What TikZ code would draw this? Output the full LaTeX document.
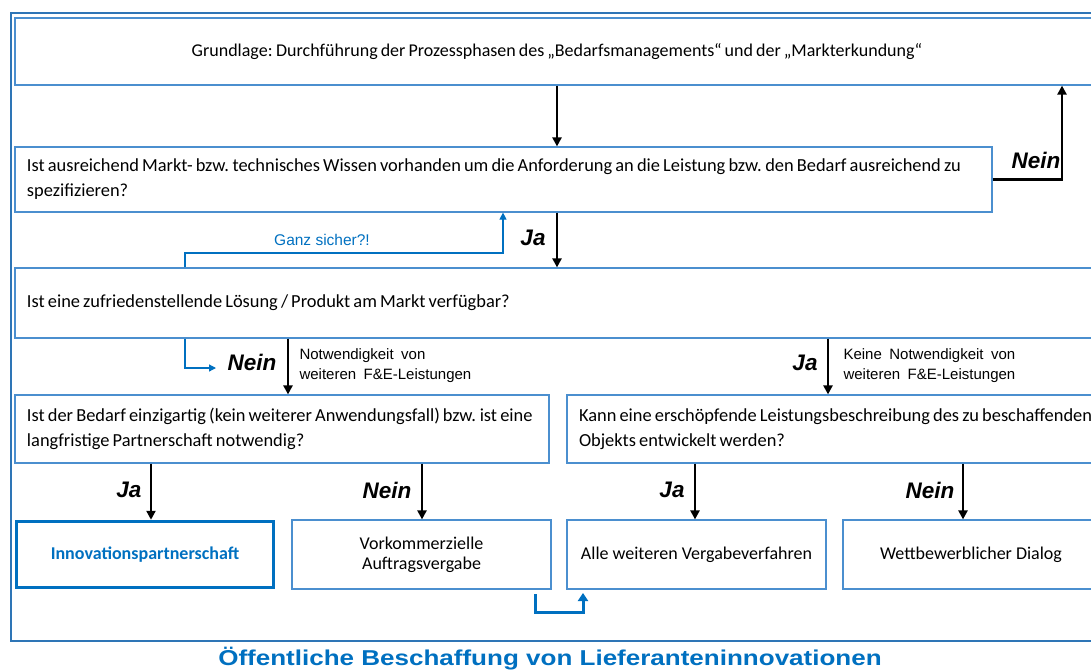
\documentclass[tikz,border=0pt]{standalone}
\usepackage{fontspec}
\setmainfont{Carlito}
\newfontfamily\arial{Liberation Sans}
\usetikzlibrary{arrows.meta}
\definecolor{rahmen}{RGB}{46,117,182}
\definecolor{kasten}{RGB}{75,143,207}
\definecolor{akzent}{RGB}{0,112,192}
\newcommand\engsatz{\spaceskip=0.17em\relax\xspaceskip=0.2em\relax}
\newcommand\weitsatz{\spaceskip=0.5em\relax}

\begin{document}
\begin{tikzpicture}[x=1pt,y=-1pt,
  box/.style={draw=kasten, line width=1.2pt, rectangle, inner sep=0pt, font=\fontsize{18.4}{25}\selectfont\engsatz},
  frage/.style={box, align=left, inner xsep=12pt, execute at begin node={\engsatz}},
  ziel/.style={box, minimum width=259, minimum height=69, align=center, font=\fontsize{18}{20}\selectfont},
  arr/.style={line width=2.4pt, -{Triangle[length=9pt,width=9pt]}},
  bluearr/.style={draw=akzent, line width=1.2pt, -{Triangle[length=7pt,width=7pt]}},
  jn/.style={font=\arial\bfseries\itshape\fontsize{22.5}{22.5}\selectfont},
  hinweis/.style={font=\arial\fontsize{15}{20}\selectfont\weitsatz, align=left, anchor=west}]

\useasboundingbox (0,0) rectangle (1091,670);
\clip (0,0) rectangle (1091,670);

\draw[draw=rahmen, line width=1.2pt] (11,13) rectangle (1100,641);

\node[box, minimum width=1084, minimum height=67, font=\fontsize{18}{25}\selectfont\engsatz] (grundlage) at (557,51.5) {Grundlage: Durchführung der Prozessphasen des „Bedarfsmanagements“ und der „Markterkundung“};

\node[frage, text width=953, minimum height=65] (wissen) at (503.5,179.5) {\mbox{Ist ausreichend Markt- bzw. technisches Wissen vorhanden um die Anforderung an die Leistung bzw. den Bedarf ausreichend zu}\\spezifizieren?};

\node[frage, text width=1060, minimum height=70] (loesung) at (557,303) {\mbox{Ist eine zufriedenstellende Lösung / Produkt am Markt verfügbar?}};

\node[frage, text width=510, minimum height=68] (einzig) at (282,429) {\mbox{Ist der Bedarf einzigartig (kein weiterer Anwendungsfall) bzw. ist eine}\\\mbox{langfristige Partnerschaft notwendig?}};
\node[frage, text width=508, minimum height=68] (beschreib) at (833,429) {\mbox{Kann eine erschöpfende Leistungsbeschreibung des zu beschaffenden}\\\mbox{Objekts entwickelt werden?}};

\node[ziel, draw=akzent, line width=3.5pt, minimum width=257, minimum height=66, text=akzent, font=\bfseries\fontsize{18}{20}\selectfont] (innov) at (145,554.5) {Innovationspartnerschaft};
\node[ziel] (vorkom) at (421.5,554.5) {Vorkommerzielle\\Auftragsvergabe};
\node[ziel] (weitere) at (696.5,554.5) {Alle weiteren Vergabeverfahren};
\node[ziel, minimum width=256] (dialog) at (971,554.5) {Wettbewerblicher Dialog};

\coordinate (k1) at (557,0);
\coordinate (k2) at (1062,0);
\coordinate (k3) at (288,0);
\coordinate (k4) at (828,0);
\coordinate (k5) at (151,0);
\coordinate (k6) at (422,0);
\coordinate (k7) at (695,0);
\coordinate (k8) at (963,0);

\draw[arr] (grundlage.south -| k1) -- (wissen.north -| k1);
\draw[arr] (wissen.east) -| (grundlage.south -| k2);
\draw[arr] (wissen.south -| k1) -- (loesung.north -| k1);
\draw[arr] (loesung.south -| k3) -- (einzig.north -| k3);
\draw[arr] (loesung.south -| k4) -- (beschreib.north -| k4);
\draw[arr] (einzig.south -| k5) -- (innov.north -| k5);
\draw[arr] (einzig.south -| k6) -- (vorkom.north -| k6);
\draw[arr] (beschreib.south -| k7) -- (weitere.north -| k7);
\draw[arr] (beschreib.south -| k8) -- (dialog.north -| k8);

\node[jn] (nein1) at (1036,160) {Nein};
\node[jn] (ja1) at (533,238) {Ja};
\node[jn] (nein2) at (252,362) {Nein};
\node[jn] (ja2) at (805,363) {Ja};
\node[jn] (ja3) at (129,490) {Ja};
\node[jn] (nein3) at (387,490) {Nein};
\node[jn] (ja4) at (672,490) {Ja};
\node[jn] (nein4) at (930,490) {Nein};

\node[hinweis] (fe1) at (296,366) {Notwendigkeit von\\weiteren F\&E-Leistungen};
\node[hinweis] (fe2) at (840,366) {Keine Notwendigkeit von\\weiteren F\&E-Leistungen};

\coordinate (g1) at (185,253);
\coordinate (g2) at (503,253);
\draw[bluearr] (loesung.north -| g1) -- (g1) -- (g2) -- (wissen.south -| g2);
\node[font=\arial\fontsize{15.5}{15.5}\selectfont, text=akzent] (sicher) at (322,240) {Ganz sicher?!};

\coordinate (n1) at (185,368);
\coordinate (n2) at (216,368);
\draw[bluearr] (loesung.south -| n1) -- (n1) -- (n2);

\coordinate (b1) at (535,594);
\coordinate (b2) at (535,612);
\coordinate (b3) at (583,612);
\coordinate (b4) at (583,593);
\draw[draw=akzent, line width=3pt, -{Triangle[length=8pt,width=10pt]}] (b1) -- (b2) -- (b3) -- (b4);

\node[font=\arial\bfseries\fontsize{21.5}{21.5}\selectfont, text=akzent, xscale=1.21, transform shape] (titel) at (550,659) {Öffentliche Beschaffung von Lieferanteninnovationen};

\end{tikzpicture}
\end{document}
